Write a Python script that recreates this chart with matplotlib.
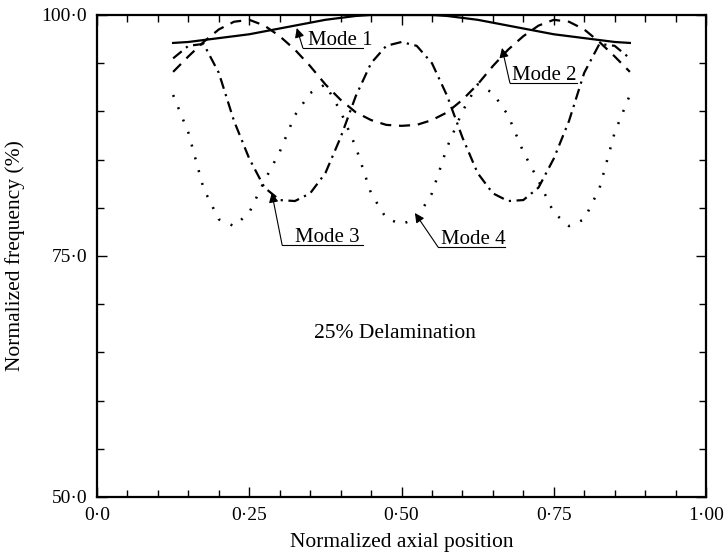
import matplotlib
matplotlib.use("Agg")
import matplotlib.pyplot as plt
from matplotlib.ticker import FixedLocator, MultipleLocator

plt.rcParams['font.family'] = ['Liberation Serif', 'DejaVu Serif']

# Data (delamination centre position vs normalized frequency)
x = [0.125, 0.15, 0.175, 0.2, 0.225, 0.25, 0.275, 0.3, 0.325, 0.35, 0.375,
     0.4, 0.425, 0.45, 0.475, 0.5, 0.525, 0.55, 0.575, 0.6, 0.625, 0.65,
     0.675, 0.7, 0.725, 0.75, 0.775, 0.8, 0.825, 0.85, 0.875]

mode1 = [97.1, 97.2, 97.4, 97.6, 97.8, 98.0, 98.3, 98.6, 98.9, 99.2, 99.5,
         99.7, 99.9, 100.0, 100.0, 100.0, 100.0, 100.0, 99.9, 99.7, 99.5,
         99.2, 98.9, 98.6, 98.3, 98.0, 97.8, 97.6, 97.4, 97.2, 97.1]
mode2 = [94.1, 95.7, 97.2, 98.5, 99.3, 99.5, 98.9, 97.8, 96.4, 94.7, 92.8,
         91.2, 89.9, 89.1, 88.6, 88.5, 88.6, 89.1, 89.9, 91.2, 92.8,
         94.7, 96.4, 97.8, 98.9, 99.5, 99.3, 98.5, 97.2, 95.7, 94.1]
mode3 = [95.5, 96.8, 97.0, 94.0, 89.0, 85.1, 82.1, 80.8, 80.7, 81.5, 83.6,
         87.3, 91.6, 95.0, 96.8, 97.2, 96.8, 95.0, 91.6, 87.3, 83.6,
         81.5, 80.7, 80.8, 82.1, 85.1, 89.0, 94.0, 97.0, 96.8, 95.5]
mode4 = [91.7, 87.8, 82.0, 78.8, 78.1, 79.5, 82.8, 85.8, 89.6, 91.9, 92.8,
         90.0, 86.3, 81.5, 78.9, 78.3, 78.9, 81.5, 86.3, 90.0, 92.8,
         91.9, 89.6, 85.8, 82.8, 79.5, 78.1, 78.8, 82.0, 87.8, 91.7]

xtick_vals = [0.0, 0.25, 0.5, 0.75, 1.0]
xtick_labels = ['0·0', '0·25', '0·50', '0·75', '1·00']
ytick_vals = [50, 75, 100]
ytick_labels = ['50·0', '75·0', '100·0']

# label: (arrow head x, y), (tail x, y), underline end x, text x
notes = [
    ('Mode 1', (0.328, 98.65), (0.338, 96.58), 0.437, 0.346),
    ('Mode 2', (0.665, 96.58), (0.678, 92.95), 0.788, 0.681),
    ('Mode 3', (0.287, 81.54), (0.304, 76.14), 0.437, 0.325),
    ('Mode 4', (0.522, 79.46), (0.560, 75.93), 0.670, 0.565),
]

fig = plt.figure(figsize=(7.25, 5.53), dpi=100)
ax = fig.add_axes([0.1338, 0.1013, 0.84, 0.8716])

ax.plot(x, mode1, color='k', lw=1.6, ls='-')
ax.plot(x, mode2, color='k', lw=1.6, ls=(0, (5, 3.5)))
ax.plot(x, mode3, color='k', lw=1.6, ls=(0, (5, 2.5, 1, 2.5)))
ax.plot(x, mode4, color='k', lw=1.8, ls=(0, (0.8, 4.5)))

for label, head, tail, uend, tx in notes:
    ax.annotate('', xy=head, xytext=tail,
                arrowprops=dict(arrowstyle='-|>', color='k', lw=0.8,
                                shrinkA=0, shrinkB=0, mutation_scale=14))
    ax.plot([tail[0], uend], [tail[1], tail[1]], color='k', lw=0.8)
    ax.text(tx, tail[1] + 0.3, label, fontsize=15, ha='left', va='baseline')

ax.text(0.489, 67.0, '25% Delamination', fontsize=15.5, ha='center', va='center')

ax.set_xlim(0, 1)
ax.set_ylim(50, 100)
ax.xaxis.set_major_locator(FixedLocator(xtick_vals))
ax.set_xticklabels(xtick_labels)
ax.yaxis.set_major_locator(FixedLocator(ytick_vals))
ax.set_yticklabels(ytick_labels)
ax.xaxis.set_minor_locator(MultipleLocator(0.05))
ax.yaxis.set_minor_locator(MultipleLocator(5))
ax.tick_params(which='both', direction='in', top=True, right=True,
               labelsize=14, width=1.0)
ax.tick_params(which='major', length=7, pad=7)
ax.tick_params(which='minor', length=5)
for s in ax.spines.values():
    s.set_linewidth(1.6)

ax.set_xlabel('Normalized axial position', fontsize=15.5, labelpad=7)
ax.set_ylabel('Normalized frequency (%)', fontsize=15.5, labelpad=12)

fig.savefig('out.png', dpi=100)
